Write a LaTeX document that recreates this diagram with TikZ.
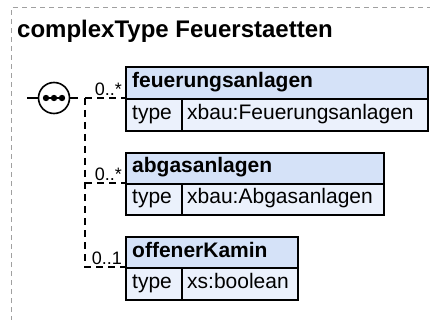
\documentclass[tikz,border=0pt]{standalone}
\usepackage{fontspec}
\setmainfont{Liberation Sans}
\usetikzlibrary{calc}
\definecolor{namefill}{RGB}{213,226,248}
\definecolor{typefill}{RGB}{235,241,252}
\definecolor{framegray}{RGB}{160,160,160}
\tikzset{
  cell/.style={draw=black, line width=1.6pt, rectangle, inner sep=0pt, anchor=north west},
  namecell/.style={cell, fill=namefill},
  typecell/.style={cell, fill=typefill},
  nametext/.style={anchor=base west, inner sep=0pt, font=\bfseries\fontsize{21}{25}\selectfont},
  typetext/.style={anchor=base west, inner sep=0pt, font=\fontsize{21}{25}\selectfont},
  multlabel/.style={anchor=base east, inner sep=0pt, font=\fontsize{18}{21}\selectfont},
  conn/.style={draw=black, line width=1.6pt, dash pattern=on 7pt off 5pt},
  stub/.style={draw=black, line width=1.6pt},
  frameline/.style={draw=framegray, line width=1pt, dash pattern=on 5pt off 4pt},
}
\begin{document}
\begin{tikzpicture}[x=1pt,y=-1pt]
\useasboundingbox (0,0) rectangle (430,320);
\fill[white] (0,0) rectangle (430,320);
% frame
\coordinate (fbl) at (11,330);
\coordinate (ftl) at (11,8);
\coordinate (ftr) at (440,8);
\draw[frameline] (fbl) -- (ftl) -- (ftr);
% title
\node[anchor=base west, inner sep=0pt, font=\bfseries\fontsize{24}{29}\selectfont] (title) at (17,38) {complexType Feuerstaetten};
% sequence compositor
\node[circle, draw=black, line width=1.6pt, minimum size=31pt, inner sep=0pt, fill=white] (seq) at (54,98) {};
\draw[line width=2pt] ($(seq.center)+(-8,0)$) -- ($(seq.center)+(8,0)$);
\foreach \dx in {-8,0,8} \fill ($(seq.center)+(\dx,0)$) circle (3.2pt);
\coordinate (sl) at (27,98);
\coordinate (sr) at (78,98);
\draw[stub] (sl) -- (seq.west);
\draw[stub] (seq.east) -- (sr);
% box 1
\node[namecell, minimum width=302pt, minimum height=32pt] (b1n) at (125,66) {};
\node[typecell, minimum width=56pt, minimum height=32pt] (b1k) at (125,98) {};
\node[typecell, minimum width=246pt, minimum height=32pt] (b1v) at (181,98) {};
\node[nametext] (b1nt) at (132,87.5) {feuerungsanlagen};
\node[typetext] (b1kt) at (132,119.5) {type};
\node[typetext] (b1vt) at (187,119.5) {xbau:Feuerungsanlagen};
% box 2
\node[namecell, minimum width=258pt, minimum height=31pt] (b2n) at (125,152) {};
\node[typecell, minimum width=56pt, minimum height=31pt] (b2k) at (125,183) {};
\node[typecell, minimum width=202pt, minimum height=31pt] (b2v) at (181,183) {};
\node[nametext] (b2nt) at (132,173) {abgasanlagen};
\node[typetext] (b2kt) at (132,204) {type};
\node[typetext] (b2vt) at (187,204) {xbau:Abgasanlagen};
% box 3
\node[namecell, minimum width=172pt, minimum height=31pt] (b3n) at (125,236) {};
\node[typecell, minimum width=56pt, minimum height=32pt] (b3k) at (125,267) {};
\node[typecell, minimum width=116pt, minimum height=32pt] (b3v) at (181,267) {};
\node[nametext] (b3nt) at (132,257) {offenerKamin};
\node[typetext] (b3kt) at (132,288.5) {type};
\node[typetext] (b3vt) at (187,288.5) {xs:boolean};
% connectors
\coordinate (j1) at (85,98);
\coordinate (j2) at (85,183);
\coordinate (j3) at (85,267);
\draw[conn] (j1) -- (b1k.north west);
\draw[conn] (j1) -- (j3) -- (b3k.north west);
\draw[conn] (j2) -- (b2k.north west);
% multiplicities
\node[multlabel] (m1) at (122,95.5) {0..*};
\node[multlabel] (m2) at (122,180.5) {0..*};
\node[multlabel] (m3) at (122,264.5) {0..1};
\end{tikzpicture}
\end{document}
